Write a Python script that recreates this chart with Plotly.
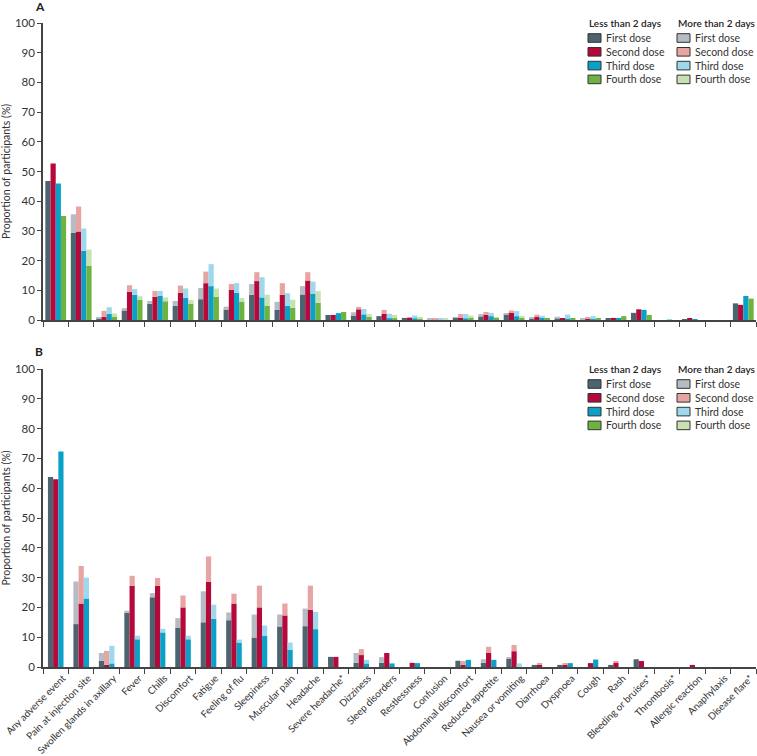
import plotly.graph_objects as go

# categories on the x axis (shared by both panels)
categories = ["Any adverse event", "Pain at injection site", "Swollen glands in axillary", "Fever", "Chills",
              "Discomfort", "Fatigue", "Feeling of flu", "Sleepiness", "Muscular pain", "Headache",
              "Severe headache*", "Dizziness", "Sleep disorders", "Restlessness", "Confusion",
              "Abdominal discomfort", "Reduced appetite", "Nausea or vomiting", "Diarrhoea", "Dyspnoea",
              "Cough", "Rash", "Bleeding or bruises*", "Thrombosis*", "Allergic reaction", "Anaphylaxis",
              "Disease flare*"]
doses = ["First dose", "Second dose", "Third dose", "Fourth dose"]

# panel A: % lasting less than 2 days, and the extra % lasting more than 2 days
a_first_short = [46.8, 29.3, 0.5, 3.2, 5.5, 4.8, 7.0, 3.5, 8.5, 3.4, 8.6, 1.7, 1.5, 1.3, 0.7, 0.3, 0.8, 1.2, 2.0, 0.6, 0.4, 0.3, 0.6, 2.4, 0, 0.2, 0, 5.6]
a_first_long = [0, 6.3, 0.5, 0.8, 0.9, 1.6, 3.8, 1.0, 3.6, 2.7, 2.8, 0, 1.1, 0, 0, 0.1, 0.2, 0.8, 0.2, 0.3, 0.7, 0.3, 0, 0, 0, 0, 0, 0]
a_second_short = [52.7, 29.8, 1.0, 9.5, 7.8, 9.1, 12.4, 10.2, 13.1, 8.5, 13.3, 1.7, 3.6, 2.1, 0.7, 0.3, 0.8, 1.8, 2.6, 1.0, 0.6, 0.6, 0.7, 3.6, 0, 0.6, 0, 5.1]
a_second_long = [0, 8.4, 2.1, 2.2, 2.0, 2.5, 3.9, 1.9, 3.0, 3.9, 2.8, 0, 0.8, 1.3, 0.3, 0.1, 1.2, 0.9, 0.6, 0.8, 0, 0.1, 0, 0, 0, 0, 0, 0]
a_third_short = [46.0, 23.3, 2.1, 8.5, 8.1, 7.5, 11.4, 9.2, 7.6, 4.8, 8.9, 2.3, 1.9, 0.6, 0.5, 0.3, 0.5, 1.3, 1.3, 0.8, 0.4, 0.3, 0.6, 3.4, 0, 0.2, 0, 8.1]
a_third_long = [0, 7.5, 2.2, 1.9, 1.7, 3.1, 7.4, 3.2, 6.8, 4.2, 4.0, 0, 1.8, 1.5, 1.0, 0.2, 1.5, 1.1, 1.7, 0.6, 1.4, 1.0, 0, 0, 0.2, 0, 0, 0]
a_fourth_short = [35.0, 18.2, 1.0, 6.8, 6.3, 5.5, 7.8, 6.2, 4.8, 4.1, 5.8, 2.7, 1.1, 0.6, 0.5, 0.3, 0.8, 0.8, 0.8, 0.6, 0.7, 0.6, 1.3, 1.7, 0, 0, 0, 7.2]
a_fourth_long = [0, 5.5, 1.2, 1.2, 1.3, 1.2, 2.8, 1.2, 3.7, 2.7, 3.9, 0, 0.9, 1.1, 0.3, 0.1, 0.7, 0, 0.6, 0, 0, 0, 0, 0, 0, 0, 0, 0]

# panel B: only three doses
b_first_short = [63.8, 14.4, 2.1, 18.2, 23.4, 13.1, 15.0, 15.7, 9.9, 13.6, 13.7, 3.4, 1.4, 1.4, 0, 0, 2.1, 1.4, 2.7, 0.7, 0.7, 0, 0.7, 2.6, 0, 0, 0, 0]
b_first_long = [0, 14.3, 2.6, 0.7, 1.4, 3.3, 10.4, 2.6, 7.7, 4.0, 5.9, 0, 3.3, 1.9, 0, 0, 0, 1.2, 0.6, 0, 0, 0, 0, 0, 0, 0, 0, 0]
b_second_short = [63.0, 21.3, 0.7, 27.2, 27.2, 20.0, 28.6, 21.3, 20.0, 17.3, 19.2, 3.4, 4.0, 4.7, 1.4, 0, 0.7, 4.7, 5.3, 0.7, 0.7, 1.3, 1.4, 2.0, 0, 0.7, 0, 0]
b_second_long = [0, 12.6, 4.7, 3.4, 2.7, 4.0, 8.5, 3.3, 7.3, 4.0, 8.1, 0, 2.0, 0, 0, 0, 1.3, 2.1, 2.1, 0.6, 0.6, 0, 0.6, 0, 0, 0, 0, 0]
b_third_short = [72.3, 23.0, 1.2, 9.3, 11.6, 9.3, 16.2, 8.2, 10.4, 5.8, 12.7, 0, 1.2, 1.2, 1.3, 0, 2.4, 2.4, 0, 0, 1.3, 2.5, 0, 0, 0, 0, 0, 0]
b_third_long = [0, 7.0, 5.9, 1.2, 1.2, 1.2, 4.7, 1.0, 3.5, 2.4, 5.8, 0, 1.2, 0, 0, 0, 0, 0, 1.2, 0, 0, 0, 0, 0, 0, 0, 0, 0]

dark = ["#4b6470", "#b5083b", "#0aa0c8", "#6cb33f"]
light = ["#b6bcc3", "#e6a4a2", "#9dd8ec", "#c7e1b2"]

FONT = "Lato"
TXT = "#333333"
W, H = 757, 756
L, R, T, B = 43, 1, 23, 89

def px(x):
    return (x - L) / (W - L - R)

def py(y):
    return (H - B - y) / (H - T - B)

fig = go.Figure()
bw = 0.204

panelA = [(a_first_short, a_first_long), (a_second_short, a_second_long),
          (a_third_short, a_third_long), (a_fourth_short, a_fourth_long)]
panelB = [(b_first_short, b_first_long), (b_second_short, b_second_long),
          (b_third_short, b_third_long)]

for panel, xa, ya in [(panelA, "x", "y"), (panelB, "x2", "y2")]:
    n = len(panel)
    for i, (short, long_) in enumerate(panel):
        off = -bw * n / 2 + i * bw
        fig.add_trace(go.Bar(x=categories, y=short, width=bw, offset=off, marker_color=dark[i],
                             marker_line_width=0, xaxis=xa, yaxis=ya, showlegend=False))
        fig.add_trace(go.Bar(x=categories, y=long_, base=short, width=bw, offset=off,
                             marker_color=light[i], marker_line_width=0, xaxis=xa, yaxis=ya,
                             showlegend=False))

# legend boxes drawn by hand (two columns per panel)
shapes = []
annotations = []
for title_y in [23, 369]:
    for col_x, title, cols in [(588, "Less than 2 days", dark), (677, "More than 2 days", light)]:
        annotations.append(dict(x=px(col_x - 1), y=py(title_y), xref="paper", yref="paper",
                                text=title, showarrow=False, xanchor="left", yanchor="middle",
                                font=dict(family=FONT, size=10, color="#222222", weight=600)))
        for k, d in enumerate(doses):
            yc = title_y + 15 + k * 13.8
            shapes.append(dict(type="rect", xref="paper", yref="paper",
                               x0=px(col_x), x1=px(col_x + 13), y0=py(yc - 4.3), y1=py(yc + 4.3),
                               fillcolor=cols[k], line=dict(color="#333333", width=1)))
            annotations.append(dict(x=px(col_x + 16), y=py(yc), xref="paper", yref="paper",
                                    text=d, showarrow=False, xanchor="left", yanchor="middle",
                                    font=dict(family=FONT, size=10.5, color=TXT)))

for letter, y in [("A", 7), ("B", 351)]:
    annotations.append(dict(x=px(33), y=py(y), xref="paper", yref="paper", text="<b>" + letter + "</b>",
                            showarrow=False, xanchor="left", yanchor="middle",
                            font=dict(family=FONT, size=12, color="#222222")))

yax = dict(range=[0, 100], dtick=10, showgrid=False, zeroline=False, showline=True, automargin=False,
           linecolor="#444444", linewidth=1.5, ticks="outside", ticklen=4, tickcolor="#444444",
           tickfont=dict(family=FONT, size=11.5, color=TXT),
           title=dict(text="Proportion of participants (%)", standoff=6,
                      font=dict(family=FONT, size=10.5, color=TXT)))
xax = dict(type="category", categoryorder="array", categoryarray=categories, range=[-0.5, 27.5],
           showgrid=False, zeroline=False, showline=True, linecolor="#444444", linewidth=1.5,
           automargin=False, ticks="outside", tickson="boundaries", ticklen=5, tickcolor="#444444",
           tickfont=dict(family=FONT, size=9.8, color=TXT))

fig.update_layout(
    width=W, height=H,
    margin=dict(l=L, r=R, t=T, b=B),
    barmode="overlay",
    plot_bgcolor="white", paper_bgcolor="white",
    font=dict(family=FONT, color=TXT),
    xaxis=dict(xax, anchor="y", showticklabels=False),
    yaxis=dict(yax, domain=[py(320), 1], anchor="x"),
    xaxis2=dict(xax, anchor="y2", tickangle=-45, ticklabelshift=7),
    yaxis2=dict(yax, domain=[0, py(369)], anchor="x2"),
    shapes=shapes,
    annotations=annotations,
)

# the page's default body margin would push the figure off the window
fig.write_html("out.html", config={"displayModeBar": False},
               post_script="document.body.style.margin='0px';document.body.style.overflow='hidden';")
